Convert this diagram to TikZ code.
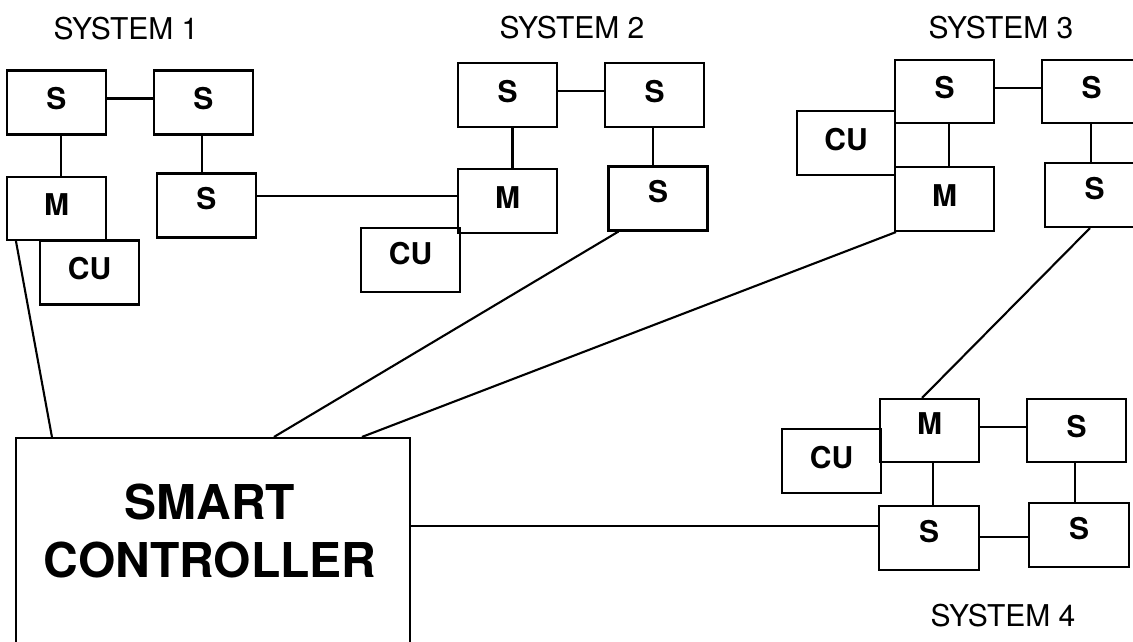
\documentclass[tikz,border=0pt]{standalone}
\usepackage{fontspec}
\setmainfont{TeX Gyre Heros}
\usetikzlibrary{calc}
\tikzset{
  unit/.style={draw,line width=2.1pt,minimum width=99pt,minimum height=64pt,inner sep=0pt,
    font=\fontsize{30}{30}\selectfont\bfseries,text height=22pt,text depth=8pt},
  lowunit/.style={unit,text depth=14pt},
  link/.style={line width=2.1pt},
  syslabel/.style={font=\fontsize{30}{30}\selectfont,text depth=0pt}
}
\begin{document}
\begin{tikzpicture}[x=1pt,y=-1pt]
    \useasboundingbox (0,0) rectangle (1133,641);
    \clip (0,0) rectangle (1133,641);

    % system 1
    \node[syslabel] (sys1) at (126,28) {SYSTEM 1};
    \node[unit] (s1a) at (56.5,102.5) {S};
    \node[unit] (s1b) at (203.5,102.5) {S};
    \node[unit,minimum height=63pt] (m1) at (56.5,208.5) {M};
    \node[unit] (cu1) at (89.5,272.5) {CU};
    \node[lowunit] (s1c) at (206.5,205.5) {S};

    % system 2
    \node[syslabel] (sys2) at (572,27) {SYSTEM 2};
    \node[unit] (s2a) at (507.5,95) {S};
    \node[unit] (s2b) at (654.5,95) {S};
    \node[unit] (m2) at (507.5,201) {M};
    \node[lowunit] (s2c) at (658,198.5) {S};
    \node[lowunit] (cu2) at (410.5,260) {CU};

    % system 3
    \node[syslabel] (sys3) at (1001,27) {SYSTEM 3};
    \node[unit,minimum height=63pt] (s3a) at (944.5,91.5) {S};
    \node[unit,minimum height=63pt] (s3b) at (1091.5,91.5) {S};
    \node[unit,minimum width=98pt] (cu3) at (846,143) {CU};
    \node[unit] (m3) at (944.5,199) {M};
    \node[lowunit] (s3c) at (1094.5,195) {S};

    % system 4
    \node[syslabel] (sys4) at (1003,615) {SYSTEM 4};
    \node[lowunit,minimum height=63pt] (m4) at (929.5,430.5) {M};
    \node[unit,minimum height=63pt] (s4a) at (1076.5,430.5) {S};
    \node[unit] (cu4) at (831.5,461) {CU};
    \node[lowunit,minimum width=100pt] (s4b) at (929,538) {S};
    \node[lowunit,minimum width=100pt] (s4c) at (1079,535) {S};

    % controller
    \node[draw,line width=2.1pt,minimum width=394pt,minimum height=222pt] (sc) at (213,549) {};
    \node[font=\fontsize{48}{58}\selectfont\bfseries,align=center] (sclabel) at (210,531) {SMART\\CONTROLLER};

    % links inside the systems
    \draw[link] ([yshift=4pt]s1a.east) -- ([yshift=4pt]s1b.west);
    \draw[link] ([xshift=4.5pt]s1a.south) -- ([xshift=4.5pt]s1a.south |- m1.north);
    \draw[link] ([xshift=-1.5pt]s1b.south) -- ([xshift=-1.5pt]s1b.south |- s1c.north);
    \draw[link] ([yshift=4pt]s2a.east) -- ([yshift=4pt]s2b.west);
    \draw[link] ([xshift=5pt]s2a.south) -- ([xshift=5pt]s2a.south |- m2.north);
    \draw[link] ([xshift=-1.5pt]s2b.south) -- ([xshift=-1.5pt]s2b.south |- s2c.north);
    \draw[link] ([yshift=3.5pt]s3a.east) -- ([yshift=3.5pt]s3a.east -| s3b.west);
    \draw[link] ([xshift=4.5pt]s3a.south) -- ([xshift=4.5pt]s3a.south |- m3.north);
    \draw[link] ([xshift=-0.5pt]s3b.south) -- ([xshift=-0.5pt]s3b.south |- s3c.north);
    \draw[link] ([yshift=3.5pt]m4.east) -- ([yshift=3.5pt]m4.east -| s4a.west);
    \draw[link] ([xshift=3.5pt]m4.south) -- ([xshift=3.5pt]m4.south |- s4b.north);
    \draw[link] ([xshift=-1.5pt]s4a.south) -- ([xshift=-1.5pt]s4a.south |- s4c.north);
    \draw[link] ([yshift=1pt]s4b.east) -- ([yshift=1pt]s4b.east -| s4c.west);

    % links between the systems and the controller
    \draw[link] ([yshift=5pt]m2.west) -- ([yshift=5pt]m2.west -| s1c.east);
    \draw[link] ([xshift=10pt]m1.south west) -- ([xshift=37pt]sc.north west);
    \draw[link] ([xshift=11pt]s2c.south west) -- ([xshift=259pt]sc.north west);
    \draw[link] ([xshift=2pt]m3.south west) -- ([xshift=347pt]sc.north west);
    \draw[link] ([xshift=-4.5pt]s3c.south) -- ([xshift=-7.5pt]m4.north);
    \draw[link] ([yshift=12pt]s4b.west) -- ([yshift=12pt]s4b.west -| sc.east);
\end{tikzpicture}
\end{document}
